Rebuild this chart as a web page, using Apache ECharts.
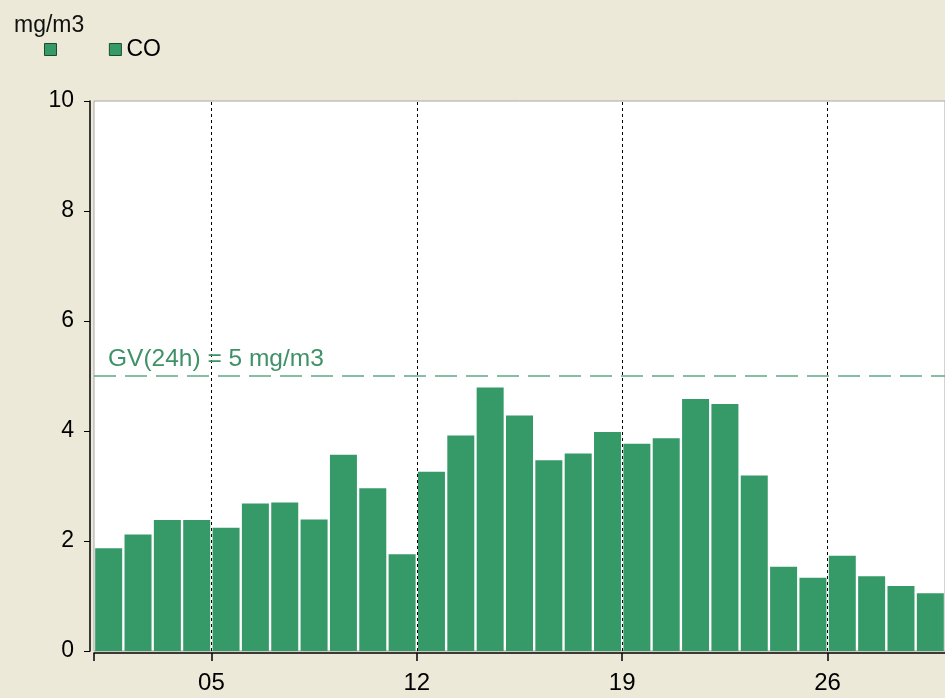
<!DOCTYPE html>
<html>
<head>
<meta charset="utf-8">
<script src="https://cdn.jsdelivr.net/npm/echarts@6/dist/echarts.min.js"></script>
<style>
html,body{margin:0;padding:0;background:#ece9d8;}
#chart{width:945px;height:698px;}
</style>
</head>
<body>
<div id="chart"></div>
<script>
const unitLabel = 'mg/m3';
const seriesName = 'CO';
const days = [1,2,3,4,5,6,7,8,9,10,11,12,13,14,15,16,17,18,19,20,21,22,23,24,25,26,27,28,29];
const coValues = [1.87,2.12,2.38,2.38,2.24,2.68,2.70,2.39,3.57,2.96,1.76,3.26,3.92,4.79,4.28,3.47,3.59,3.98,3.77,3.87,4.58,4.49,3.19,1.53,1.33,1.73,1.36,1.18,1.05];
const tickDays = [5,12,19,26];
const tickLabels = ['05','12','19','26'];
const gvValue = 5;
const gvLabel = 'GV(24h) = 5 mg/m3';

const FONT = 'Liberation Sans, Arial, sans-serif';
const green = '#359a68';

const chart = echarts.init(document.getElementById('chart'));
chart.setOption({
  backgroundColor: '#ece9d8',
  animation: false,
  textStyle: {fontFamily: FONT},
  title: {
    text: unitLabel, left: 9, top: 9,
    textStyle: {fontFamily: FONT, fontSize: 23, fontWeight: 'normal', color: '#111'}
  },
  legend: {
    left: 39, top: 33, itemWidth: 12, itemHeight: 12, itemGap: 41,
    icon: 'rect',
    textStyle: {fontFamily: FONT, fontSize: 23, color: '#000'},
    itemStyle: {borderColor: '#1e4a32', borderWidth: 1},
    data: ['\u00a0', seriesName]
  },
  grid: {
    left: 94, right: -1, top: 101, bottom: 47,
    show: true, backgroundColor: '#ffffff', borderColor: '#a8a8a8', borderWidth: 1
  },
  xAxis: {
    type: 'value', min: 1, max: 30, offset: 2,
    axisLine: {show: true, onZero: false, lineStyle: {color: '#000', width: 1.5}},
    axisTick: {show: true, length: 8, customValues: [1].concat(tickDays), lineStyle: {color: '#000', width: 1.5}},
    axisLabel: {
      customValues: tickDays, margin: 18, fontSize: 24, color: '#000', fontFamily: FONT,
      formatter: v => tickLabels[tickDays.indexOf(v)] || ''
    },
    splitLine: {show: false}
  },
  yAxis: {
    type: 'value', min: 0, max: 10, interval: 2, offset: 4,
    axisLine: {show: true, lineStyle: {color: '#000', width: 1.5}},
    axisTick: {show: true, length: 6, lineStyle: {color: '#000'}},
    axisLabel: {margin: 16, fontSize: 23, color: '#000', fontFamily: FONT},
    splitLine: {show: false}
  },
  series: [
    {name: '\u00a0', type: 'line', data: [], itemStyle: {color: green}},
    {
      name: seriesName, type: 'bar', barWidth: 27,
      itemStyle: {color: green},
      data: days.map((d, i) => [d + 0.5, coValues[i]]),
      markLine: {
        silent: true, symbol: ['none', 'none'],
        data: [
          {xAxis: tickDays[0]}, {xAxis: tickDays[1]}, {xAxis: tickDays[2]}, {xAxis: tickDays[3]},
          {yAxis: gvValue, lineStyle: {color: '#5fa888', type: [22, 9], width: 1.5},
           label: {show: true, position: 'insideStartTop', formatter: gvLabel, color: '#3f9168',
                   fontSize: 24.5, fontFamily: FONT, distance: [14, 4]}}
        ],
        lineStyle: {color: '#000', type: [3, 3], width: 1},
        label: {show: false}
      }
    }
  ]
});
</script>
</body>
</html>
